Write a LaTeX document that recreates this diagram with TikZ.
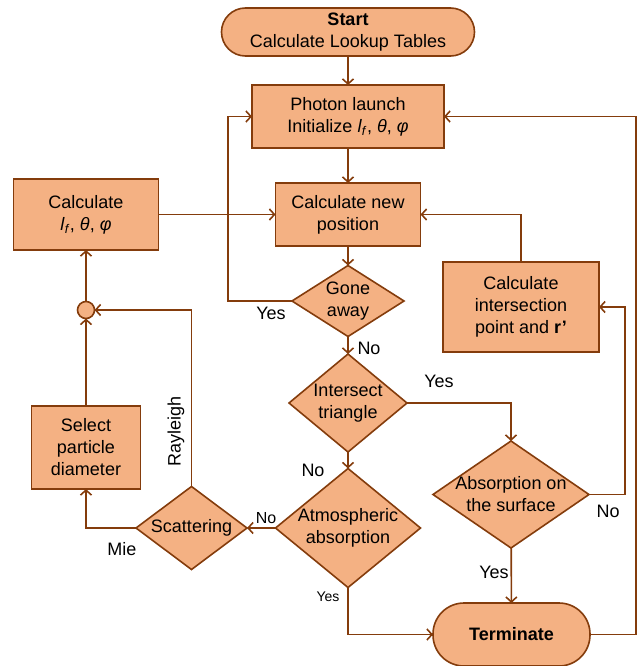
\documentclass[tikz,border=0pt]{standalone}
\usepackage{fontspec}
\setmainfont{Liberation Sans}
\usepackage{xcolor}
\usetikzlibrary{positioning, shapes, arrows.meta}
\definecolor{boxfill}{HTML}{F4B183}
\definecolor{boxline}{HTML}{843C0C}

\begin{document}
\begin{tikzpicture}[x=1pt, y=-1pt, line width=1.6pt,
        process/.style={rectangle, draw=boxline, fill=boxfill, inner sep=2pt, outer sep=0pt, align=center, font=\fontsize{18}{22}\selectfont},
        startstop/.style={process, rounded corners=24pt},
        decision/.style={diamond, draw=boxline, fill=boxfill, inner sep=0pt, outer sep=0pt},
        dtext/.style={align=center, inner sep=0pt, font=\fontsize{18}{22}\selectfont},
        junction/.style={circle, draw=boxline, fill=boxfill, minimum size=17pt, inner sep=0pt, outer sep=0pt},
        flow/.style={draw=boxline, -{Straight Barb[length=5pt, width=11pt]}},
        lbl/.style={inner sep=0pt, font=\fontsize{18}{22}\selectfont}]
            \useasboundingbox (0,0) rectangle (643,666);

            \node[startstop, minimum width=253pt, minimum height=48pt] (start) at (348, 32) {\textbf{Start}\\Calculate Lookup Tables};
            \node[process, minimum width=192pt, minimum height=63pt] (photon) at (348, 116.5) {Photon launch\\Initialize \textit{l}\textsubscript{\textit{f}}, \textit{θ}, \textit{φ}};
            \node[process, minimum width=145pt, minimum height=63pt] (newpos) at (348, 214.5) {Calculate new\\position};
            \node[process, minimum width=145pt, minimum height=71pt] (calcl) at (86, 214.5) {Calculate\\\textit{l}\textsubscript{\textit{f}}, \textit{θ}, \textit{φ}};
            \node[process, minimum width=156pt, minimum height=90pt] (inter) at (521, 307) {Calculate\\intersection\\point and \textbf{r'}};
            \node[process, minimum width=109pt, minimum height=83pt] (select) at (86, 447.5) {Select\\particle\\diameter};
            \node[startstop, rounded corners=31pt, minimum width=157pt, minimum height=63pt] (term) at (511.5, 634.5) {\textbf{Terminate}};
            \node[junction] (junc) at (86, 310) {};

            \node[decision, minimum width=112pt, minimum height=71pt, label={[dtext]center:Gone\\away}] (gone) at (348, 301) {};
            \node[decision, minimum width=118pt, minimum height=98pt, label={[dtext]center:Intersect\\triangle}] (tri) at (348, 403) {};
            \node[decision, minimum width=145pt, minimum height=119pt, label={[dtext]center:Atmospheric\\absorption}] (atm) at (348, 528) {};
            \node[decision, minimum width=111pt, minimum height=83pt, label={[dtext]center:Scattering}] (scat) at (191.5, 528) {};
            \node[decision, minimum width=156pt, minimum height=107pt, label={[dtext]center:Absorption on\\the surface}] (absorb) at (511, 494.5) {};

            \node[lbl] (yesgone) at (271, 313) {Yes};
            \node[lbl] (nogone) at (369, 348) {No};
            \node[lbl] (yestri) at (439, 381) {Yes};
            \node[lbl] (notri) at (313, 470) {No};
            \node[lbl, font=\fontsize{16}{20}\selectfont] (noatm) at (266, 518) {No};
            \node[lbl, font=\fontsize{14}{18}\selectfont] (yesatm) at (328, 597) {Yes};
            \node[lbl] (yesabs) at (494, 572) {Yes};
            \node[lbl] (noabs) at (608, 511) {No};
            \node[lbl] (mie) at (122, 549) {Mie};
            \node[lbl, rotate=90] (rayleigh) at (176, 431) {Rayleigh};

            \draw[flow] (start) -- (photon);
            \draw[flow] (photon) -- (newpos);
            \draw[flow] (newpos) -- (gone);
            \draw[flow] (gone.west) -- ++(-64,0) |- (photon.west);
            \draw[flow] (gone) -- (tri);
            \draw[flow] (tri.east) -| (absorb.north);
            \draw[flow] (tri) -- (atm);
            \draw[flow] (atm) -- (scat);
            \draw[flow] (atm.south) |- (term.west);
            \draw[flow] (absorb) -- (term);
            \draw[flow] (absorb.east) -- ++(36,0) |- (inter.east);
            \draw[flow] (inter.north) |- (newpos.east);
            \draw[flow] (term.east) -- ++(46,0) |- (photon.east);
            \draw[flow] (scat.west) -| (select.south);
            \draw[flow] (scat.north) |- (junc.east);
            \draw[flow] (select) -- (junc);
            \draw[flow] (junc) -- (calcl);
            \draw[flow] (calcl) -- (newpos);
        \end{tikzpicture}
\end{document}
